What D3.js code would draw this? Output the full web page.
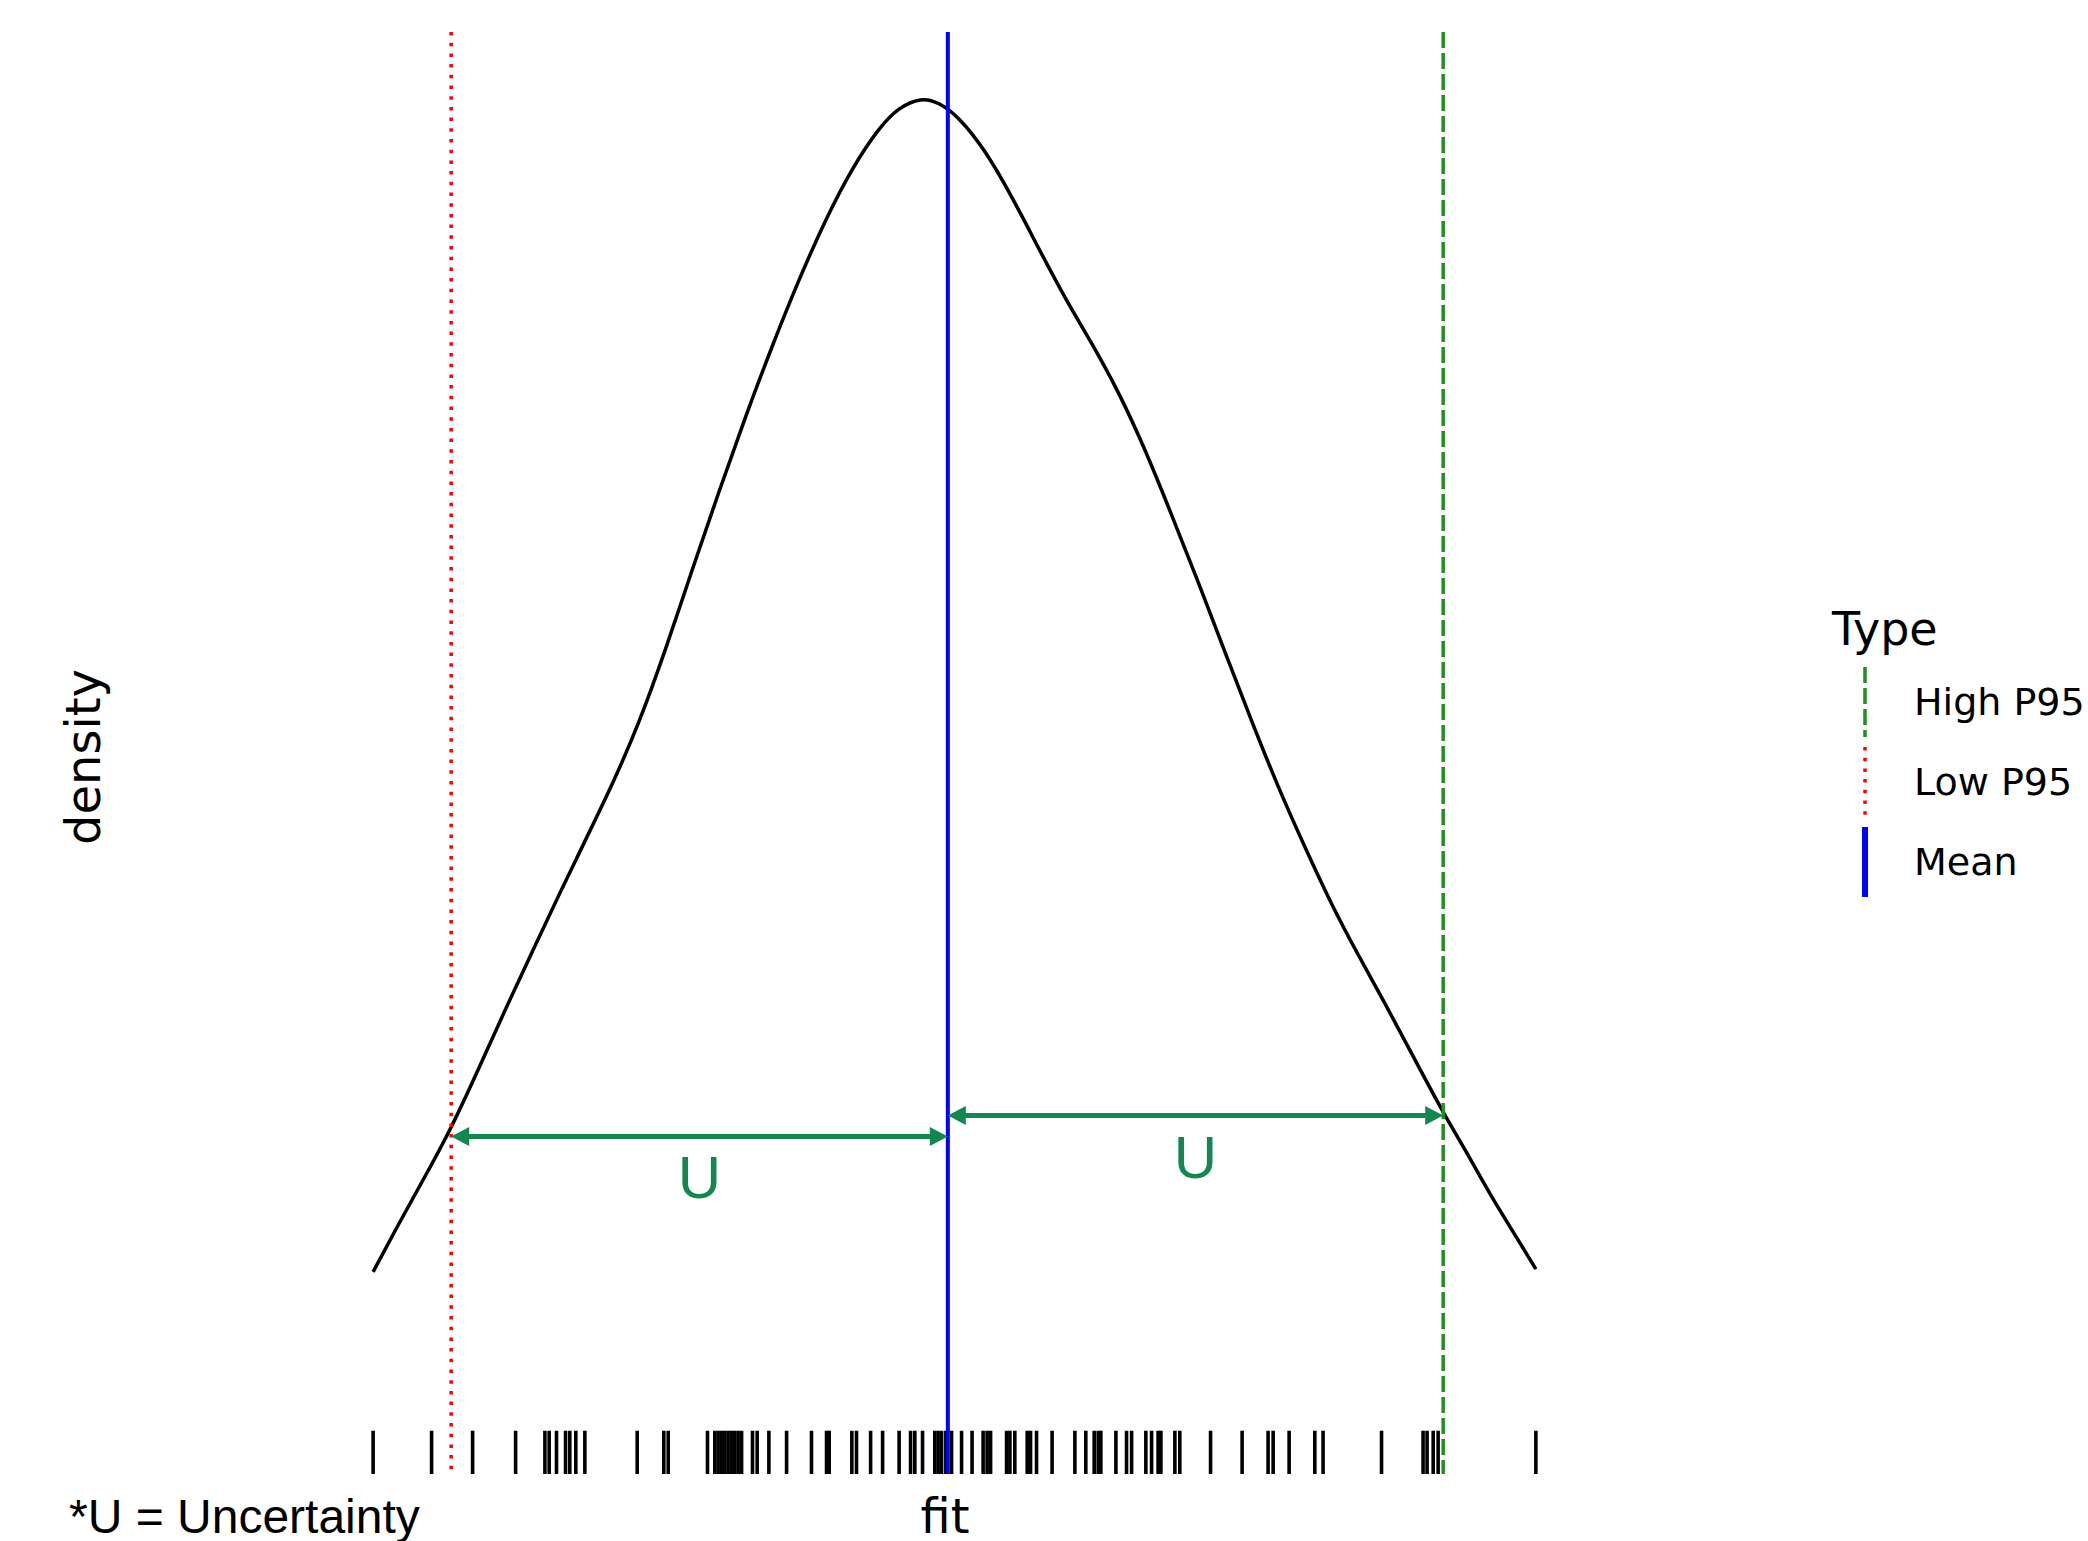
<!DOCTYPE html>
<html>
<head>
<meta charset="utf-8">
<script src="https://cdn.jsdelivr.net/npm/d3@7"></script>
<style>
  body { margin: 0; background: #fff; }
  svg text { font-family: "DejaVu Sans", sans-serif; }
</style>
</head>
<body>
<div id="chart"></div>
<script>
// observed fit values (rug)
const fitValues = [
  -4.316, -3.877, -3.569, -3.246, -3.026, -2.994, -2.939, -2.871, -2.839, -2.794,
  -2.726, -2.333, -2.133, -2.100, -1.805, -1.750, -1.725, -1.699, -1.675, -1.650,
  -1.624, -1.600, -1.575, -1.549, -1.467, -1.432, -1.344, -1.211, -1.024, -0.911,
  -0.891, -0.721, -0.686, -0.580, -0.490, -0.366, -0.280, -0.248, -0.190, -0.098,
  -0.073, -0.047, -0.015, 0.028, 0.103, 0.182, 0.265, 0.295, 0.321, 0.441,
  0.466, 0.503, 0.596, 0.621, 0.666, 0.783, 0.954, 1.036, 1.099, 1.129,
  1.149, 1.262, 1.342, 1.380, 1.487, 1.530, 1.579, 1.600, 1.705, 1.742,
  1.973, 2.210, 2.405, 2.443, 2.563, 2.756, 2.818, 3.257, 3.569, 3.599,
  3.645, 3.682, 4.416
];

// density curve
const curveX = [
  -4.316, -4.12, -3.92, -3.73, -3.52, -3.32, -3.12, -2.92, -2.72, -2.52,
  -2.32, -2.12, -1.92, -1.72, -1.52, -1.32, -1.12, -0.92, -0.72, -0.52,
  -0.37, -0.20, -0.07, 0.08, 0.28, 0.48, 0.68, 0.88, 1.08, 1.28,
  1.48, 1.68, 1.88, 2.08, 2.28, 2.48, 2.68, 2.88, 3.08, 3.28,
  3.48, 3.72, 3.88, 4.08, 4.28, 4.416
];
const curveDensity = [
  0.0209, 0.0284, 0.0357, 0.0428, 0.0521, 0.0612, 0.0699, 0.0786, 0.0870, 0.0954,
  0.1047, 0.1160, 0.1283, 0.1402, 0.1517, 0.1625, 0.1726, 0.1818, 0.1897, 0.1958,
  0.1990, 0.2005, 0.1998, 0.1976, 0.1925, 0.1854, 0.1775, 0.1698, 0.1630, 0.1556,
  0.1468, 0.1367, 0.1265, 0.1157, 0.1052, 0.0950, 0.0859, 0.0771, 0.0694, 0.0621,
  0.0544, 0.0452, 0.0398, 0.0324, 0.0259, 0.0213
];

const lowP95 = -3.73;
const meanFit = 0;
const highP95 = 3.72;

// uncertainty arrows: [from, to, density level]
const arrowSpans = [[lowP95, meanFit, 0.0416], [meanFit, highP95, 0.0448]];

const legendTypes = ["High P95", "Low P95", "Mean"];
const typeColors = {"High P95": "#1f8f1f", "Low P95": "#ff0000", "Mean": "#0000ff"};
const typeDash = {"High P95": "16 5", "Low P95": "3.5 7.2", "Mean": null};
const typeValue = {"High P95": highP95, "Low P95": lowP95, "Mean": meanFit};

const W = 2088, H = 1541;
const panel = {left: 315, right: 1594, top: 32, bottom: 1474};
const uGreen = "#13874f";

const svg = d3.select("#chart").append("svg")
  .attr("width", W).attr("height", H);
svg.append("rect").attr("width", W).attr("height", H).attr("fill", "#fff");

const [xmin, xmax] = d3.extent(fitValues);
const xpad = (xmax - xmin) * 0.05;
const xScale = d3.scaleLinear()
  .domain([xmin - xpad, xmax + xpad])
  .range([panel.left, panel.right]);

const ymax = d3.max(curveDensity);
const yScale = d3.scaleLinear()
  .domain([-0.05 * ymax, 1.05 * ymax])
  .range([panel.bottom, panel.top]);

// density curve
const curveData = curveX.map((x, i) => [x, curveDensity[i]]);
svg.append("path")
  .attr("d", d3.line()
    .x(d => xScale(d[0]))
    .y(d => yScale(d[1]))
    .curve(d3.curveBasis)(curveData))
  .attr("fill", "none")
  .attr("stroke", "#000")
  .attr("stroke-width", 3.5);

// rug
const rugLen = (panel.bottom - panel.top) * 0.03;
svg.append("g").selectAll("line")
  .data(fitValues)
  .join("line")
  .attr("x1", d => xScale(d)).attr("x2", d => xScale(d))
  .attr("y1", panel.bottom - rugLen).attr("y2", panel.bottom)
  .attr("stroke", "#000")
  .attr("stroke-width", 3.6);

// vertical reference lines
const vOrder = ["Low P95", "High P95", "Mean"];
svg.append("g").selectAll("line")
  .data(vOrder)
  .join("line")
  .attr("x1", d => xScale(typeValue[d])).attr("x2", d => xScale(typeValue[d]))
  .attr("y1", panel.top).attr("y2", panel.bottom)
  .attr("stroke", d => typeColors[d])
  .attr("stroke-width", d => d === "Mean" ? 4 : 3.5)
  .attr("stroke-dasharray", d => typeDash[d]);

// uncertainty arrows
function drawArrow(x1, x2, y) {
  const head = 18, half = 9.5;
  const g = svg.append("g").attr("fill", uGreen);
  g.append("line")
    .attr("x1", x1 + head - 2).attr("x2", x2 - head + 2)
    .attr("y1", y).attr("y2", y)
    .attr("stroke", uGreen).attr("stroke-width", 5);
  g.append("path").attr("d", `M${x1},${y} L${x1 + head},${y - half} L${x1 + head},${y + half} Z`);
  g.append("path").attr("d", `M${x2},${y} L${x2 - head},${y - half} L${x2 - head},${y + half} Z`);
  g.append("text")
    .attr("x", (x1 + x2) / 2).attr("y", y + 62)
    .attr("text-anchor", "middle")
    .style("font-family", "'Liberation Sans', Arial, sans-serif")
    .attr("font-size", 60)
    .text("U");
}
arrowSpans.forEach(([a, b, d]) => drawArrow(xScale(a), xScale(b), yScale(d)));

// axis titles
svg.append("text")
  .attr("transform", "translate(83,757) rotate(-90)")
  .attr("text-anchor", "middle")
  .attr("dy", "0.35em")
  .attr("font-size", 48)
  .text("density");

svg.append("text")
  .attr("x", 945).attr("y", 1533)
  .attr("text-anchor", "middle")
  .attr("font-size", 48)
  .text("fit");

svg.append("text")
  .attr("x", 69).attr("y", 1533)
  .style("font-family", "'Liberation Sans', Arial, sans-serif")
  .attr("font-size", 48)
  .text("*U = Uncertainty");

// legend
const legend = svg.append("g").attr("transform", "translate(1832,0)");
legend.append("text")
  .attr("x", 0).attr("y", 645)
  .attr("font-size", 46)
  .text("Type");

const keyY = d3.scalePoint().domain(legendTypes).range([702, 862]);
const keys = legend.selectAll("g.key")
  .data(legendTypes)
  .join("g")
  .attr("class", "key")
  .attr("transform", d => `translate(0,${keyY(d)})`);
keys.append("line")
  .attr("x1", 33).attr("x2", 33)
  .attr("y1", -35).attr("y2", 35)
  .attr("stroke", d => typeColors[d])
  .attr("stroke-width", d => d === "Mean" ? 6 : 3.5)
  .attr("stroke-dasharray", d => typeDash[d]);
keys.append("text")
  .attr("x", 82).attr("y", 0)
  .attr("dy", "0.35em")
  .attr("font-size", 38)
  .text(d => d);
</script>
</body>
</html>
